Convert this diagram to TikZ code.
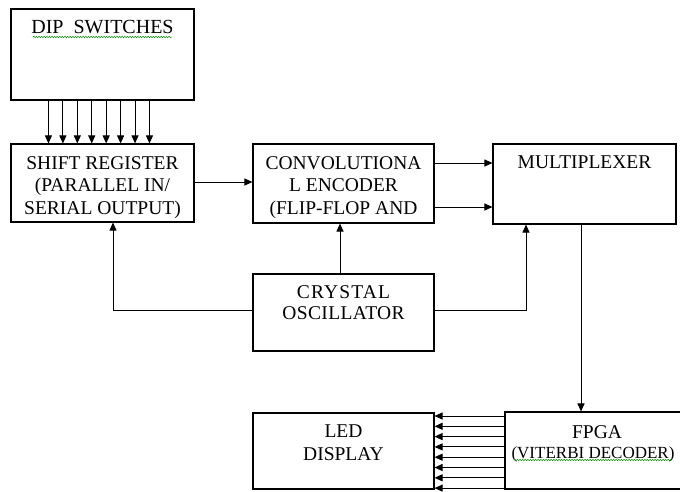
\documentclass[tikz,border=0pt]{standalone}
\usepackage{fontspec}
\setmainfont{Liberation Serif}
\usetikzlibrary{arrows.meta,decorations.pathmorphing,calc}
\begin{document}
\begin{tikzpicture}[x=1pt,y=-1pt,
  blk/.style={draw,line width=1.1pt,inner sep=0pt,minimum width=#1},
  txt/.style={inner sep=0pt,anchor=north,align=center,font=\fontsize{19.5}{22.5}\selectfont},
  arr/.style={line width=1pt,-{Triangle[length=8pt,width=7pt]}},
  wavy/.style={green!55!black,line width=0.5pt,decorate,decoration={snake,amplitude=0.7pt,segment length=2.6pt}}]
\useasboundingbox (0,0) rectangle (680,491);
\clip (0,0) rectangle (680,491);
\fill[white] (0,0) rectangle (680,491);
% boxes
\node[blk=183pt,minimum height=91pt] (dip) at (102.5,54.5) {};
\node[blk=183pt,minimum height=78pt] (shift) at (102.5,183) {};
\node[blk=181pt,minimum height=79pt] (conv) at (343.5,183.5) {};
\node[blk=183pt,minimum height=80pt] (mux) at (584.5,184) {};
\node[blk=181pt,minimum height=77pt] (xtal) at (343.5,312.5) {};
\node[blk=181pt,minimum height=76pt] (led) at (343.5,451) {};
\node[blk=190pt,minimum height=77pt] (fpga) at (600,450.5) {};
% texts
\node[txt,font=\fontsize{20}{22.5}\selectfont] (tdip) at ([yshift=-12pt]dip.north) {DIP\ \ SWITCHES};
\node[txt] (tshift) at ([yshift=-12.5pt]shift.north) {SHIFT REGISTER\\(PARALLEL IN/\\SERIAL OUTPUT)};
\node[txt] (tconv) at ([yshift=-12.5pt]conv.north) {CONVOLUTIONA\\L ENCODER\\(FLIP-FLOP AND};
\node[txt] (tmux) at ([yshift=-12.5pt]mux.north) {MULTIPLEXER};
\node[txt,font=\fontsize{19.5}{21}\selectfont] (txtal) at ([yshift=-11.5pt]xtal.north) {\addfontfeatures{LetterSpace=6}CRYSTAL\\\addfontfeatures{LetterSpace=2}OSCILLATOR};
\node[txt] (tled) at ([yshift=-12.5pt]led.north) {LED\\DISPLAY};
\node[txt] (tfpga1) at (597,425.5) {FPGA};
\node[txt,font=\fontsize{17}{20}\selectfont] (tfpga2) at (593,446) {(VITERBI DECODER)};
% spell-check underlines
\draw[wavy] (33,37) -- (172,37);
\draw[wavy] (514,460) -- (672,460);
% DIP -> shift register (8 lines)
\foreach \i in {0,...,7}{
  \draw[arr] ($(dip.south west)+(38+14.43*\i,0)$) coordinate (d\i) -- (d\i |- shift.north);
}
% shift -> conv
\coordinate (s1) at (shift.east |- 0,182);
\draw[arr] (s1) -- (s1 -| conv.west);
% conv -> mux
\coordinate (c1) at (conv.east |- 0,163);
\coordinate (c2) at (conv.east |- 0,207);
\draw[arr] (c1) -- (c1 -| mux.west);
\draw[arr] (c2) -- (c2 -| mux.west);
% crystal -> conv
\coordinate (x1) at (340,0);
\draw[arr] (x1 |- xtal.north) -- (x1 |- conv.south);
% crystal -> shift register
\coordinate (xl) at (xtal.west |- 0,310.5);
\coordinate (sl) at (113,0);
\draw[arr] (xl) -| (sl |- shift.south);
% crystal -> mux
\coordinate (xr) at (xtal.east |- 0,310.5);
\coordinate (mr) at (526,0);
\draw[arr] (xr) -| (mr |- mux.south);
% mux -> fpga
\coordinate (mf) at (581,0);
\draw[arr] (mf |- mux.south) -- (mf |- fpga.north);
% fpga -> led (8 lines)
\foreach \i in {0,...,7}{
  \coordinate (f\i) at (fpga.west |- 0,{416+10.3*\i});
  \draw[arr] (f\i) -- (f\i -| led.east);
}
\end{tikzpicture}
\end{document}
